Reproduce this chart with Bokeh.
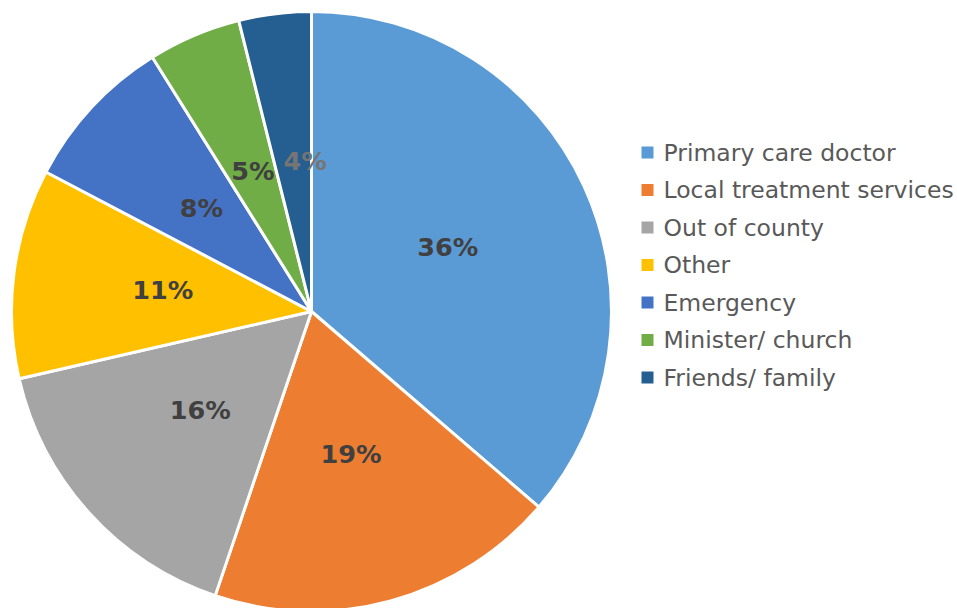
import math
from bokeh.plotting import figure
from bokeh.models import ColumnDataSource
from bokeh.core.properties import value
from bokeh.embed import file_html
from bokeh.resources import INLINE

categories = ["Primary care doctor", "Local treatment services", "Out of county",
              "Other", "Emergency", "Minister/ church", "Friends/ family"]
shares = [36.3, 18.9, 16.2, 11.3, 8.4, 5.0, 3.9]
colors = ["#5B9BD5", "#ED7D31", "#A5A5A5", "#FFC000", "#4472C4", "#70AD47", "#255E91"]
label_colors = ["#404040", "#404040", "#404040", "#404040", "#404040", "#404040", "#757575"]
label_nudge = [0, 0, 0, 0, 0, 0, 12]

W, H = 957, 608
cx, cy, R = 311, 297, 300

total = sum(shares)
starts, ends, lx, ly, labels = [], [], [], [], []
acc = 0.0
for v in shares:
    a0 = math.pi / 2 - 2 * math.pi * acc / total
    acc += v
    a1 = math.pi / 2 - 2 * math.pi * acc / total
    starts.append(a0)
    ends.append(a1)
    mid = (a0 + a1) / 2
    lx.append(cx + 0.5 * R * math.cos(mid))
    ly.append(cy + 0.5 * R * math.sin(mid))
    labels.append(f"{round(v)}%")

src = ColumnDataSource(dict(start=starts, end=ends, color=colors, lx=lx, ly=ly,
                            label=labels, lcolor=label_colors, cat=categories,
                            nudge=label_nudge))

p = figure(width=W, height=H, x_range=(0, W), y_range=(0, H),
           output_backend="svg", toolbar_location=None, min_border=0)
p.axis.visible = False
p.grid.visible = False
p.outline_line_color = None

p.wedge(x=cx, y=cy, radius=R, start_angle="start", end_angle="end",
        direction="clock", fill_color="color", line_color="white", line_width=3,
        source=src)

p.text(x="lx", y="ly", text="label", text_color="lcolor", source=src,
       x_offset="nudge", y_offset=-2,
       text_font=value("DejaVu Sans"), text_font_style="bold",
       text_font_size="25.5px", text_align="center", text_baseline="middle")

leg_y = [456 - 37.5 * i for i in range(len(categories))]
lsrc = ColumnDataSource(dict(y=leg_y, color=colors, cat=categories))
p.scatter(x=647, y="y", marker="square", size=12, fill_color="color",
          line_color=None, source=lsrc)
p.text(x=663, y="y", text="cat", source=lsrc, text_color="#595959",
       text_font=value("DejaVu Sans"), text_font_size="23.5px",
       text_baseline="middle", text_align="left")

open("out.html", "w").write(file_html(p, INLINE))
